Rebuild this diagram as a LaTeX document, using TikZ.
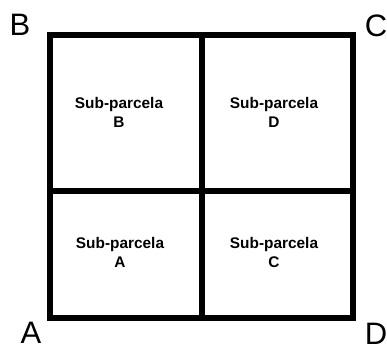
\documentclass[tikz,border=0pt]{standalone}
\usepackage{fontspec}
\setmainfont{Liberation Sans}
\begin{document}
\begin{tikzpicture}[x=1pt,y=-1pt,
  lado/.style={line width=5.5pt},
  canto/.style={font=\fontsize{31}{31}\selectfont},
  sub/.style={font=\bfseries\fontsize{15.4}{19}\selectfont,align=center}]
\useasboundingbox (0,0) rectangle (387,350);
% cantos da parcela
\coordinate (A) at (50,318);
\coordinate (B) at (50,35);
\coordinate (C) at (353,35);
\coordinate (D) at (353,318);
\coordinate (mAB) at (50,191);
\coordinate (mCD) at (353,191);
\coordinate (mBC) at (202,35);
\coordinate (mAD) at (202,318);
\draw[lado] (A) -- (B) -- (C) -- (D) -- cycle;
\draw[lado] (mAB) -- (mCD)  (mBC) -- (mAD);
\node[canto] (lA) at (31,333) {A};
\node[canto] (lB) at (20,25) {B};
\node[canto] (lC) at (376,26) {C};
\node[canto] (lD) at (376,334) {D};
% sub-parcelas
\node[sub] (sB) at (119,112) {Sub-parcela\\B};
\node[sub] (sD) at (274,112) {Sub-parcela\\D};
\node[sub] (sA) at (120,252) {Sub-parcela\\A};
\node[sub] (sC) at (274,252) {Sub-parcela\\C};
\end{tikzpicture}
\end{document}
